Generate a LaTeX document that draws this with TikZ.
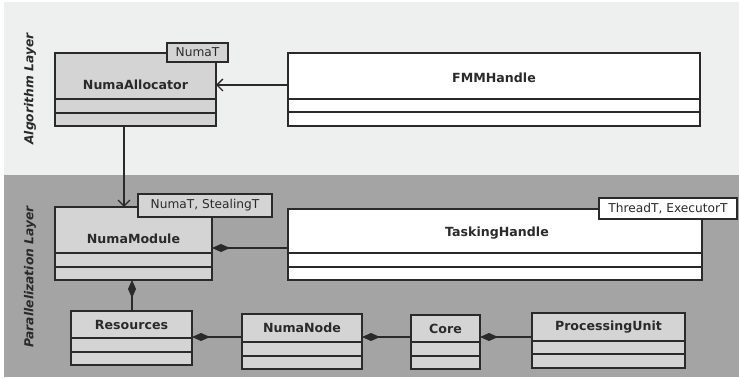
\documentclass[tikz,border=0pt]{standalone}
\usepackage{fontspec}
\setmainfont{DejaVu Sans}
\usetikzlibrary{arrows.meta}
\definecolor{lightbg}{HTML}{EEF0EF}
\definecolor{darkbg}{HTML}{A3A4A3}
\definecolor{classfill}{HTML}{D3D4D3}
\definecolor{edge}{HTML}{2A2A2A}
\tikzset{
  cls/.style={draw=edge, line width=1.7pt},
  nm/.style={font=\bfseries\fontsize{12.6}{14}\selectfont, text=edge},
  tmpl/.style={draw=edge, line width=1.5pt, fill=classfill, font=\fontsize{12.2}{14}\selectfont, text=edge, inner sep=1pt, anchor=center},
  layer/.style={font=\bfseries\itshape\fontsize{12.3}{14}\selectfont, text=edge, rotate=90},
  conn/.style={draw=edge, line width=1.4pt},
  comp/.style={conn, {Diamond[length=18pt,width=8pt]}-},
  dep/.style={conn, -{Straight Barb[length=6pt,width=12pt]}}
}
\newcommand{\umlclass}[8]{% name, x1, y1, x2, y2, ysep1, ysep2, fill
  \fill[#8] (#2,#3) rectangle (#4,#5);
  \draw[cls] (#2,#3) rectangle (#4,#5);
  \draw[cls] (#2,#6) -- (#4,#6);
  \draw[cls] (#2,#7) -- (#4,#7);
  \path (#2,#3) coordinate (#1-nw) (#4,#5) coordinate (#1-se);
}
\begin{document}
\begin{tikzpicture}[x=1pt,y=-1pt]
\useasboundingbox (0,0) rectangle (739,379);
\fill[white] (0,0) rectangle (739,379);
\fill[lightbg] (4,2) rectangle (739,175);
\fill[darkbg] (4,175) rectangle (739,377);

\node[layer] (alg) at (30,89) {Algorithm Layer};
\node[layer] (par) at (30,277) {Parallelization Layer};

% NumaAllocator
\umlclass{na}{55}{53}{216}{126}{99}{113}{classfill}
\node[nm] (naName) at (135.5,85) {NumaAllocator};
\node[tmpl, minimum width=61pt, minimum height=19pt] (naT) at (197.5,52.5) {NumaT};
\coordinate (naR) at (216,85);
\coordinate (naB) at (124,126);

% FMMHandle
\umlclass{fmm}{288}{53}{700}{126}{99}{112}{white}
\node[nm] (fmmName) at (494,78) {FMMHandle};
\coordinate (fmmL) at (288,85);

% NumaModule
\umlclass{nmod}{55}{207}{212}{280}{253}{267}{classfill}
\node[nm] (nmName) at (133.5,239) {NumaModule};
\node[tmpl, minimum width=134pt, minimum height=23pt] (nmT) at (205,205.5) {NumaT, StealingT};
\coordinate (nmT0) at (124,207);
\coordinate (nmR) at (212,248);
\coordinate (nmB) at (132,280);

% TaskingHandle
\umlclass{th}{288}{209}{702}{280}{253}{267}{white}
\node[nm] (thName) at (497,233) {TaskingHandle};
\node[tmpl, fill=white, minimum width=138pt, minimum height=21pt] (thT) at (668,208.5) {ThreadT, ExecutorT};
\coordinate (thL) at (288,248);

% Resources
\umlclass{res}{71}{311}{192}{365}{338}{352}{classfill}
\node[nm] (resName) at (131.5,324.5) {Resources};
\coordinate (resT) at (132,311);
\coordinate (resR) at (192,337);

% NumaNode
\umlclass{nn}{242}{314}{362}{369}{342}{356}{classfill}
\node[nm] (nnName) at (302,328) {NumaNode};
\coordinate (nnL) at (242,337);
\coordinate (nnR) at (362,337);

% Core
\umlclass{core}{411}{315}{480}{369}{342}{356}{classfill}
\node[nm] (coreName) at (445.5,328.5) {Core};
\coordinate (coreL) at (411,337);
\coordinate (coreR) at (480,337);

% ProcessingUnit
\umlclass{pu}{532}{313}{685}{368}{341}{354}{classfill}
\node[nm] (puName) at (608.5,327) {ProcessingUnit};
\coordinate (puL) at (532,337);

% connectors
\draw[dep] (fmmL) -- (naR);
\draw[dep] (naB) -- (nmT0);
\draw[comp] (nmR) -- (thL);
\draw[comp] (nmB) -- (resT);
\draw[comp] (resR) -- (nnL);
\draw[comp] (nnR) -- (coreL);
\draw[comp] (coreR) -- (puL);
\end{tikzpicture}
\end{document}
